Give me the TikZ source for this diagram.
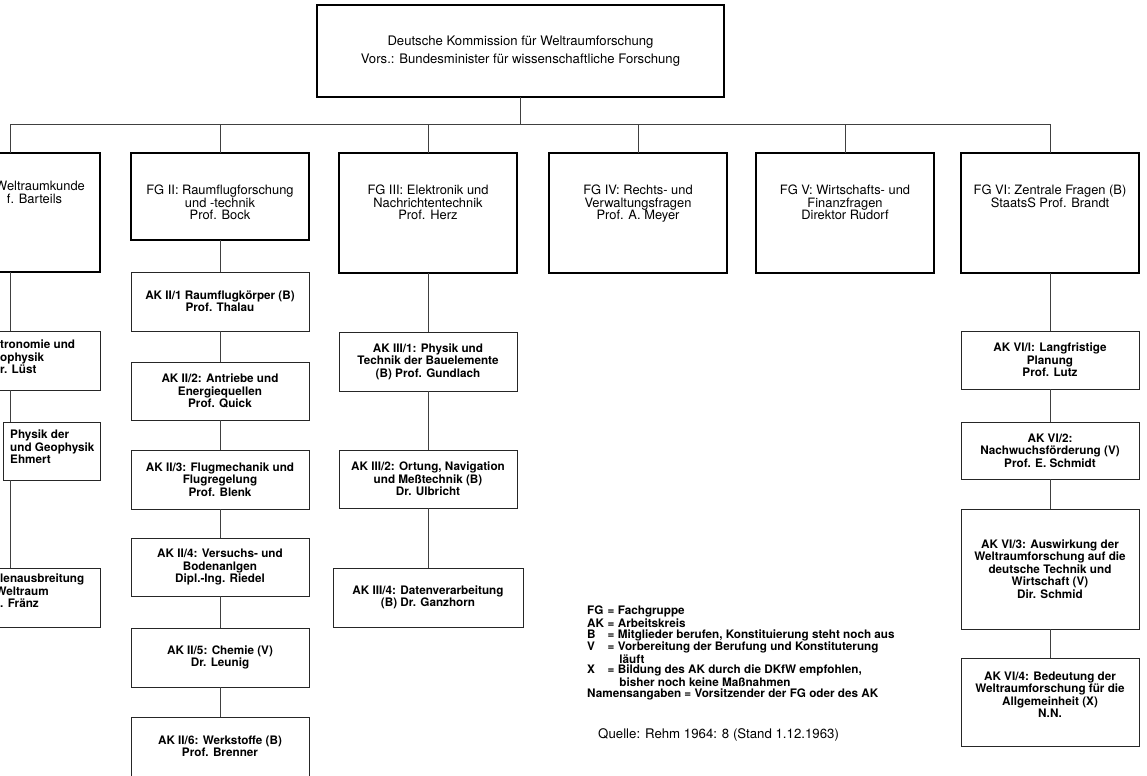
\documentclass[tikz,border=0pt]{standalone}
\usepackage{fontspec}
\setmainfont{TeX Gyre Heros}
\tikzstyle{topbox} = [rectangle, draw=black, line width=1.6pt, minimum width=12.21cm, minimum height=2.76cm, inner sep=0pt, outer sep=0pt, align=center, font=\fontsize{11.2}{15}\selectfont]
\tikzstyle{fgbox} = [rectangle, draw=black, line width=1.4pt, minimum width=5.34cm, minimum height=3.6cm, inner sep=0pt, outer sep=0pt]
\tikzstyle{fgtext} = [align=center, inner sep=0pt, font=\fontsize{11}{10.7}\selectfont]
\tikzstyle{aktext} = [align=center, inner sep=0pt, font=\bfseries\fontsize{10}{10.6}\selectfont]
\tikzstyle{akbox} = [aktext, rectangle, draw=black!85, line width=0.6pt, minimum width=5.34cm, minimum height=1.77cm, outer sep=0pt]
\tikzstyle{cuttext} = [align=left, anchor=west]
\tikzstyle{link} = [draw=black!75, line width=0.6pt]

\begin{document}
\begin{tikzpicture}[x=0.03cm, y=-0.03cm]
	\path[use as bounding box, clip] (0,0) rectangle (1147,775);
	\fill[white] (0,0) rectangle (1147,775);

	% Kommission
	\node[topbox] (dkfw) at (520.5,51) {Deutsche Kommission für Weltraumforschung\\Vors.: Bundesminister für wissenschaftliche Forschung};
	\coordinate (bus) at (520.5,124);

	% Fachgruppen
	\node[fgbox, anchor=north, minimum width=5.4cm, minimum height=3.57cm] (fg1) at (10,153) {};
	\node[fgbox, anchor=north, minimum height=2.61cm] (fg2) at (220,153) {};
	\node[fgbox, anchor=north] (fg3) at (428,153) {};
	\node[fgbox, anchor=north] (fg4) at (638,153) {};
	\node[fgbox, anchor=north] (fg5) at (845,153) {};
	\node[fgbox, anchor=north] (fg6) at (1050,153) {};

	\node[fgtext, cuttext, anchor=north west] (fg1t) at (-5,181) {Weltraumkunde\\\hspace*{10pt}f. Barteils};
	\node[fgtext, anchor=north] (fg2t) at (220,185) {FG II: Raumflugforschung\\und -technik\\Prof. Bock};
	\node[fgtext, anchor=north] (fg3t) at (428,185) {FG III: Elektronik und\\Nachrichtentechnik\\Prof. Herz};
	\node[fgtext, anchor=north] (fg4t) at (638,185) {FG IV: Rechts- und\\Verwaltungsfragen\\Prof. A. Meyer};
	\node[fgtext, anchor=north] (fg5t) at (845,185) {FG V: Wirtschafts- und\\Finanzfragen\\Direktor Rudorf};
	\node[fgtext, anchor=north] (fg6t) at (1050,185) {FG VI: Zentrale Fragen (B)\\StaatsS Prof. Brandt};

	% Arbeitskreise FG I
	\node[akbox, anchor=north, minimum width=5.4cm] (ak11) at (10,331) {};
	\node[akbox, anchor=north west, minimum width=2.91cm, minimum height=1.74cm] (ak12) at (3,422) {};
	\node[akbox, anchor=north, minimum width=5.4cm] (ak13) at (10,568) {};
	\node[aktext, cuttext] (ak11t) at (0,357) {tronomie und\\ophysik\\r. Lüst};
	\node[aktext, cuttext] (ak12t) at (10,447) {Physik der\\und Geophysik\\Ehmert};
	\node[aktext, cuttext] (ak13t) at (0,591) {lenausbreitung\\\hspace*{-4pt}Weltraum\\. Fränz};

	% Arbeitskreise FG II
	\node[akbox, anchor=north] (ak21) at (220,272) {AK II/1 Raumflugkörper (B)\\Prof. Thalau};
	\node[akbox, anchor=north, minimum height=1.74cm] (ak22) at (220,362) {AK II/2: Antriebe und\\Energiequellen\\Prof. Quick};
	\node[akbox, anchor=north] (ak23) at (220,450) {AK II/3: Flugmechanik und\\Flugregelung\\Prof. Blenk};
	\node[akbox, anchor=north, minimum height=1.74cm] (ak24) at (220,538) {AK II/4: Versuchs- und\\Bodenanlgen\\Dipl.-Ing. Riedel};
	\node[akbox, anchor=north] (ak25) at (220,628) {AK II/5: Chemie (V)\\Dr. Leunig};
	\node[akbox, anchor=north] (ak26) at (220,717) {AK II/6: Werkstoffe (B)\\Prof. Brenner};

	% Arbeitskreise FG III
	\node[akbox, anchor=north] (ak31) at (428,332) {AK III/1: Physik und\\Technik der Bauelemente\\(B) Prof. Gundlach};
	\node[akbox, anchor=north, minimum height=1.74cm] (ak32) at (428,450) {AK III/2: Ortung, Navigation\\und Meßtechnik (B)\\Dr. Ulbricht};
	\node[akbox, anchor=north, minimum width=5.7cm] (ak34) at (428,568) {AK III/4: Datenverarbeitung\\(B) Dr. Ganzhorn};

	% Arbeitskreise FG VI
	\node[akbox, anchor=north, minimum height=1.74cm] (ak61) at (1050,331) {AK VI/l: Langfristige\\Planung\\Prof. Lutz};
	\node[akbox, anchor=north, minimum height=1.71cm] (ak62) at (1050,422) {AK VI/2:\\Nachwuchsförderung (V)\\Prof. E. Schmidt};
	\node[akbox, anchor=north, minimum height=3.6cm] (ak63) at (1050,509) {AK VI/3: Auswirkung der\\Weltraumforschung auf die\\deutsche Technik und\\Wirtschaft (V)\\Dir. Schmid};
	\node[akbox, anchor=north, minimum height=2.64cm] (ak64) at (1050,658) {AK VI/4: Bedeutung der\\Weltraumforschung für die\\Allgemeinheit (X)\\N.N.\\[2pt]};

	% Verbindungen
	\draw[link] (dkfw.south) -- (dkfw.south |- bus);
	\draw[link] (fg1.north |- bus) -- (fg6.north |- bus);
	\foreach \g in {fg1,fg2,fg3,fg4,fg5,fg6}
		\draw[link] (\g.north) -- (\g.north |- bus);
	\draw[link] (fg1.south) -- (ak11.north);
	\draw[link] (ak11.south) -- (ak11.south |- ak12.north);
	\draw[link] (ak13.north |- ak12.south) -- (ak13.north);
	\foreach \a/\b in {fg2/ak21, ak21/ak22, ak22/ak23, ak23/ak24, ak24/ak25, ak25/ak26, fg3/ak31, ak31/ak32, ak32/ak34, fg6/ak61, ak61/ak62, ak62/ak63, ak63/ak64}
		\draw[link] (\a.south) -- (\b.north);

	% Legende
	\node[anchor=north west, inner sep=0pt, align=left, font=\bfseries\fontsize{10}{9.3}\selectfont] (legend) at (587,606) {%
		\makebox[1.75em][l]{FG}= Fachgruppe\\
		\makebox[1.75em][l]{AK}= Arbeitskreis\\
		\makebox[1.75em][l]{B}= Mitglieder berufen, Konstituierung steht noch aus\\
		\makebox[1.75em][l]{V}= Vorbereitung der Berufung und Konstituterung\\
		\hspace*{2.75em}läuft\\
		\makebox[1.75em][l]{X}= Bildung des AK durch die DKfW empfohlen,\\
		\hspace*{2.75em}bisher noch keine Maßnahmen\\
		Namensangaben = Vorsitzender der FG oder des AK};
	\node[anchor=west, inner sep=0pt, font=\fontsize{11.3}{13}\selectfont] (quelle) at (598,735) {Quelle: Rehm 1964: 8 (Stand 1.12.1963)};
\end{tikzpicture}
\end{document}
